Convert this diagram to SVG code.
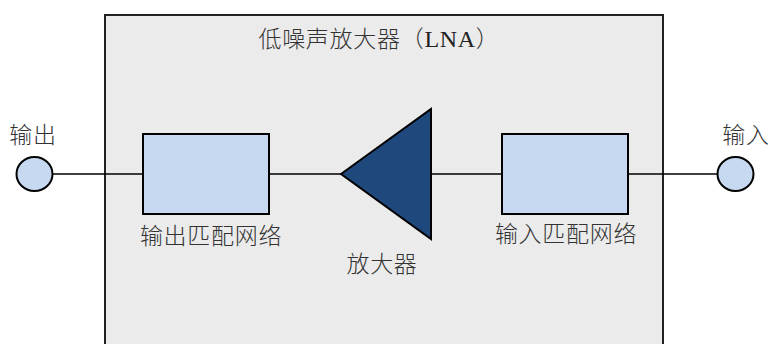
<svg xmlns="http://www.w3.org/2000/svg" width="771" height="344" viewBox="0 0 771 344">
<style>
.t{font-family:"Liberation Serif","Noto Sans CJK SC",serif;font-size:23px;font-weight:300;fill:#333;letter-spacing:0.7px}
.w{stroke:#000;stroke-width:1.5;fill:none}
.blk{fill:#c6d9f0;stroke:#000;stroke-width:2}
</style>
<rect width="771" height="344" fill="#fff"/>
<g id="lna">
<rect x="105" y="15" width="558" height="335" fill="#ebebeb" stroke="#222" stroke-width="2"/>
<text class="t" x="379" y="47" text-anchor="middle">低噪声放大器（<tspan font-size="24" font-weight="400" fill="#222">LNA</tspan>）</text>
</g>
<g id="connectors">
<line class="w" x1="53" y1="174" x2="143" y2="174"/>
<line class="w" x1="269" y1="174" x2="341" y2="174"/>
<line class="w" x1="431" y1="174" x2="502" y2="174"/>
<line class="w" x1="628" y1="174" x2="717" y2="174"/>
</g>
<g id="out">
<ellipse cx="34.5" cy="174" rx="18" ry="17" class="blk" stroke-width="1.5"/>
<text class="t" x="33" y="143" text-anchor="middle">输出</text>
</g>
<g id="outmatch">
<rect x="143" y="134" width="126" height="80" class="blk"/>
<text class="t" x="211" y="244" text-anchor="middle">输出匹配网络</text>
</g>
<g id="amp">
<polygon points="341,174 431,109 431,239" fill="#1f497d" stroke="#000" stroke-width="2" stroke-linejoin="miter"/>
<text class="t" x="382" y="272" text-anchor="middle">放大器</text>
</g>
<g id="inmatch">
<rect x="502" y="134" width="126" height="80" class="blk"/>
<text class="t" x="566" y="242" text-anchor="middle">输入匹配网络</text>
</g>
<g id="in">
<ellipse cx="735.5" cy="174" rx="18" ry="17" class="blk" stroke-width="1.5"/>
<text class="t" x="746" y="143" text-anchor="middle">输入</text>
</g>
</svg>
